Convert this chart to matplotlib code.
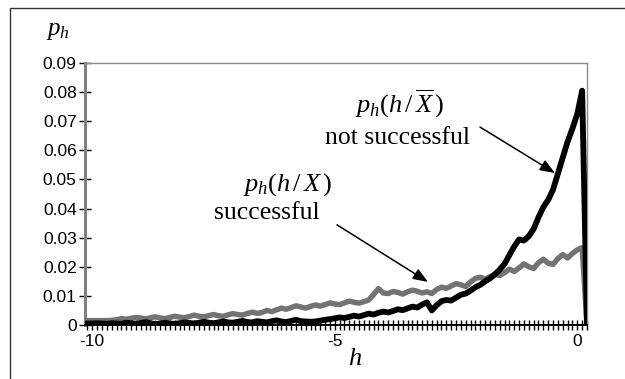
import numpy as np
import matplotlib
matplotlib.use("Agg")
import matplotlib.pyplot as plt
from matplotlib.patches import Rectangle
from matplotlib.ticker import MultipleLocator, FixedLocator, FuncFormatter

plt.rcParams['font.family'] = ['Liberation Sans', 'DejaVu Sans']
plt.rcParams['mathtext.fontset'] = 'custom'
plt.rcParams['mathtext.it'] = 'Liberation Serif:italic'
plt.rcParams['mathtext.rm'] = 'Liberation Serif'

# h grid from -10.2 to 0.2, step 0.1
h = np.round(np.arange(-10.2, 0.2001, 0.1), 1)

# successful p_h(h/X), units of 0.001
successful = np.array([
    1.5, 1.5, 1.5, 1.5, 1.5, 1.5, 1.6, 1.8, 2.2, 2.0,
    2.3, 2.6, 2.4, 2.1, 2.5, 2.8, 2.4, 2.2, 2.6, 3.0,
    2.7, 2.5, 2.9, 3.4, 3.0, 2.8, 3.2, 3.6, 3.2, 3.0,
    3.5, 3.9, 3.6, 3.4, 4.0, 4.4, 4.0, 4.3, 5.0, 4.6,
    5.2, 5.8, 5.4, 6.0, 6.6, 6.2, 5.8, 6.4, 6.9, 6.5,
    7.0, 7.6, 7.2, 7.0, 7.6, 8.2, 7.8, 7.5, 8.0, 8.6,
    10.5, 12.5, 11.0, 10.8, 11.5, 11.2, 10.6, 11.4, 12.0, 11.6,
    11.0, 11.4, 10.8, 12.2, 13.0, 12.6, 13.4, 14.2, 13.8, 13.2,
    14.8, 16.0, 16.4, 15.8, 16.6, 17.4, 17.0, 18.0, 19.2, 18.4,
    19.6, 21.0, 20.0, 19.4, 21.4, 22.6, 21.2, 20.8, 22.8, 24.2,
    23.0, 24.6, 25.8, 26.6, 0.0,
]) * 0.001

# not successful p_h(h/X-bar), units of 0.001
not_successful = np.array([
    0.5, 0.5, 0.5, 0.6, 0.5, 0.4, 0.6, 0.5, 0.4, 0.8,
    0.6, 0.4, 0.7, 1.0, 0.6, 0.3, 0.5, 0.8, 0.5, 0.4,
    0.6, 0.9, 0.7, 0.5, 0.8, 1.1, 0.8, 0.6, 0.9, 1.2,
    0.9, 0.8, 1.1, 1.4, 1.0, 0.9, 1.3, 1.1, 0.9, 1.3,
    1.6, 1.2, 1.0, 1.4, 1.8, 1.3, 1.2, 1.1, 1.2, 1.5,
    1.8, 2.0, 2.3, 2.6, 2.4, 2.8, 3.2, 2.9, 3.4, 3.9,
    3.6, 4.2, 4.6, 4.3, 4.8, 5.4, 5.1, 5.7, 6.3, 6.0,
    7.0, 7.8, 5.0, 6.8, 8.2, 8.6, 8.4, 9.4, 10.4, 10.8,
    11.8, 13.0, 13.8, 15.0, 16.0, 17.4, 19.0, 21.0, 24.0, 27.0,
    29.4, 29.0, 30.5, 33.0, 37.0, 40.5, 43.0, 46.5, 52.0, 57.5,
    63.0, 67.5, 72.5, 80.5, 0.0,
]) * 0.001

x_tick_values = [-10, -5, 0]
y_tick_values = [0, 0.01, 0.02, 0.03, 0.04, 0.05, 0.06, 0.07, 0.08, 0.09]

W, H = 625, 379
fig = plt.figure(figsize=(W / 100, H / 100), dpi=100)
fig.patch.set_facecolor('white')

# outer frame (left and top visible)
fig.add_artist(Rectangle((9.5 / W, -0.05), 1.2, 1 - 7.5 / H + 0.05,
                         transform=fig.transFigure, fill=False,
                         edgecolor='#333333', lw=1.0))

ax = fig.add_axes([85 / W, 1 - 325 / H, (587 - 85) / W, (325 - 63) / H])
ax.set_xlim(-10.15, 0.2)
ax.set_ylim(0, 0.09)

ax.plot(h, successful, color='#737373', lw=3.9, solid_joinstyle='round',
        solid_capstyle='round', zorder=3)
ax.plot(h, not_successful, color='black', lw=4.2, solid_joinstyle='round',
        solid_capstyle='round', zorder=4)

for s in ['top', 'right']:
    ax.spines[s].set_color('#8c8c8c')
    ax.spines[s].set_linewidth(1.0)
ax.spines['left'].set_color('#808080')
ax.spines['left'].set_linewidth(2.2)
ax.spines['bottom'].set_color('black')
ax.spines['bottom'].set_linewidth(1.4)
ax.spines['bottom'].set_zorder(5)

ax.xaxis.set_major_locator(FixedLocator(x_tick_values))
ax.xaxis.set_minor_locator(MultipleLocator(0.1))
ax.yaxis.set_major_locator(FixedLocator(y_tick_values))
ax.yaxis.set_major_formatter(FuncFormatter(lambda v, p: '0' if abs(v) < 1e-9 else f'{v:.2f}'))
ax.xaxis.set_major_formatter(FuncFormatter(lambda v, p: f'{int(round(v))}'))

ax.tick_params(axis='x', which='both', direction='inout', length=7, width=1.0,
               color='black', labelsize=12.5, pad=3)
ax.tick_params(axis='y', which='major', direction='inout', length=8, width=1.0,
               color='black', labelsize=12.5, pad=2)

# axis labels
fig.text(58 / W, 1 - 30 / H, r'$p_h$', fontsize=18, ha='center', va='center')
fig.text(355 / W, 1 - 358 / H, r'$h$', fontsize=19, ha='center', va='center')

# annotations
ax.text(-3.655, 0.0759, r'$p_h(h\,/\,\overline{X}\,)$', fontsize=19,
        ha='center', va='center')
ax.text(-3.70, 0.0642, 'not successful', fontsize=18.5, ha='center', va='center',
        family='Liberation Serif')
ax.text(-5.964, 0.0481, r'$p_h(h\,/\,X\,)$', fontsize=19, ha='center', va='center')
ax.text(-6.40, 0.0385, 'successful', fontsize=18.5, ha='center', va='center',
        family='Liberation Serif')

arrowprops = dict(arrowstyle='-|>,head_length=0.9,head_width=0.35', color='black',
                  lw=1.1, shrinkA=0, shrinkB=0)
ax.annotate('', xy=(-0.46, 0.0522), xytext=(-2.006, 0.068), arrowprops=arrowprops)
ax.annotate('', xy=(-3.078, 0.0148), xytext=(-4.954, 0.0344), arrowprops=arrowprops)

fig.savefig('out.png', dpi=100, facecolor='white')
